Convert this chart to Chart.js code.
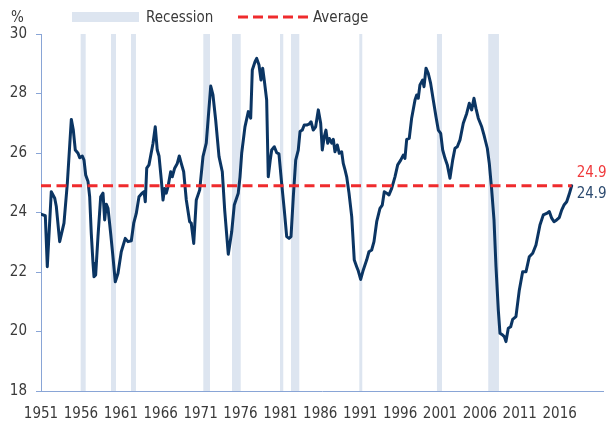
<!DOCTYPE html>
<html>
<head>
<meta charset="utf-8">
<script src="https://cdn.jsdelivr.net/npm/chart.js@4.4.1/dist/chart.umd.min.js"></script>
<style>
  body { margin: 0; background: #fff; }
  #wrap { position: relative; width: 616px; height: 421px; font-family: 'Liberation Sans Narrow', 'DejaVu Sans Condensed', sans-serif; font-size: 15px; color: #3a3a3a; }
  #wrap canvas { position: absolute; left: 0; top: 0; }
  .lg { position: absolute; top: 9px; height: 16px; line-height: 16px; white-space: nowrap; }
  .box { position: absolute; left: 72px; top: 12px; width: 67px; height: 10px; background: #dde5f0; }
  svg.dash { position: absolute; left: 238px; top: 15px; }
</style>
</head>
<body>
<div id="wrap">
  <canvas id="chart" width="616" height="421"></canvas>
  <div class="lg" style="left:11px">%</div>
  <div class="box"></div>
  <div class="lg" style="left:146px">Recession</div>
  <svg class="dash" width="72" height="4"><line x1="0" y1="2" x2="70" y2="2" stroke="#ef2b2d" stroke-width="3" stroke-dasharray="10 5"/></svg>
  <div class="lg" style="left:313px">Average</div>
</div>
<script>
// x values are read in the units of the printed year axis
const tickYears = [1951, 1956, 1961, 1966, 1971, 1976, 1981, 1986, 1991, 1996, 2001, 2006, 2011, 2016];
const yTicks = [18, 20, 22, 24, 26, 28, 30];
const average = 24.9;

const recessionStart = [1955.97, 1959.77, 1962.28, 1971.34, 1974.94, 1980.95, 1982.33, 1990.89, 2000.62, 2007.05];
const recessionEnd   = [1956.60, 1960.40, 1962.90, 1972.18, 1976.03, 1981.36, 1983.37, 1991.26, 2001.25, 2008.39];

const years = [
  1951.00, 1951.54, 1951.79, 1952.29, 1952.72, 1952.92, 1953.34, 1953.88, 1954.30, 1954.80,
  1955.05, 1955.30, 1955.64, 1955.85, 1956.18, 1956.39, 1956.60, 1956.89, 1957.10, 1957.30,
  1957.52, 1957.64, 1957.85, 1958.14, 1958.48, 1958.77, 1958.98, 1959.18, 1959.40, 1959.73,
  1960.02, 1960.31, 1960.65, 1961.06, 1961.56, 1961.90, 1962.32, 1962.62, 1962.94, 1963.28,
  1963.66, 1963.91, 1964.07, 1964.25, 1964.53, 1965.04, 1965.32, 1965.57, 1965.79, 1966.08,
  1966.29, 1966.50, 1966.70, 1966.92, 1967.25, 1967.45, 1967.75, 1968.08, 1968.33, 1968.58,
  1968.88, 1969.21, 1969.63, 1969.83, 1970.14, 1970.46, 1970.89, 1971.30, 1971.71, 1972.27,
  1972.55, 1972.89, 1973.31, 1973.72, 1974.02, 1974.47, 1974.90, 1975.22, 1975.72, 1975.94,
  1976.15, 1976.56, 1976.98, 1977.28, 1977.48, 1977.82, 1978.03, 1978.32, 1978.57, 1978.78,
  1978.98, 1979.28, 1979.48, 1979.73, 1979.91, 1980.24, 1980.54, 1980.82, 1981.16, 1981.49,
  1981.79, 1982.08, 1982.33, 1982.62, 1982.92, 1983.24, 1983.46, 1983.74, 1983.99, 1984.30,
  1984.58, 1984.84, 1985.12, 1985.42, 1985.75, 1986.05, 1986.25, 1986.50, 1986.71, 1986.93,
  1987.13, 1987.43, 1987.63, 1987.84, 1988.13, 1988.38, 1988.68, 1988.88, 1989.10, 1989.31,
  1989.60, 1989.94, 1990.26, 1990.56, 1990.76, 1991.06, 1991.39, 1991.81, 1992.10, 1992.44,
  1992.73, 1993.07, 1993.48, 1993.77, 1994.02, 1994.32, 1994.61, 1994.95, 1995.36, 1995.70,
  1996.08, 1996.40, 1996.61, 1996.83, 1997.15, 1997.45, 1997.87, 1998.08, 1998.28, 1998.49,
  1998.83, 1999.00, 1999.25, 1999.53, 1999.83, 2000.16, 2000.50, 2000.79, 2001.09, 2001.34,
  2001.63, 2001.92, 2002.25, 2002.59, 2002.88, 2003.17, 2003.51, 2003.92, 2004.35, 2004.67,
  2004.97, 2005.26, 2005.51, 2005.80, 2006.23, 2006.51, 2006.93, 2007.18, 2007.48, 2007.77,
  2008.02, 2008.31, 2008.52, 2008.86, 2009.06, 2009.27, 2009.56, 2009.86, 2010.11, 2010.52,
  2010.94, 2011.36, 2011.78, 2012.19, 2012.62, 2013.03, 2013.53, 2013.95, 2014.37, 2014.70,
  2015.00, 2015.29, 2015.62, 2015.95, 2016.25, 2016.54, 2016.88, 2017.20, 2017.50
];

const values = [
  23.94, 23.89, 22.18, 24.70, 24.48, 24.20, 23.02, 23.64, 24.98, 27.13,
  26.77, 26.10, 25.99, 25.84, 25.90, 25.76, 25.26, 25.04, 24.53, 23.30,
  22.29, 21.84, 21.90, 23.19, 24.53, 24.65, 23.75, 24.28, 24.14, 23.30,
  22.51, 21.67, 21.96, 22.68, 23.13, 23.02, 23.05, 23.64, 23.97, 24.53,
  24.65, 24.70, 24.36, 25.49, 25.60, 26.33, 26.88, 26.10, 25.90, 25.09,
  24.42, 24.81, 24.65, 24.87, 25.37, 25.20, 25.49, 25.65, 25.90, 25.65,
  25.37, 24.42, 23.69, 23.64, 22.96, 24.42, 24.76, 25.88, 26.33, 28.25,
  27.95, 27.11, 25.88, 25.37, 24.08, 22.60, 23.35, 24.25, 24.65, 25.20,
  25.99, 26.88, 27.39, 27.17, 28.79, 29.07, 29.18, 28.96, 28.45, 28.85,
  28.45, 27.78, 25.20, 25.76, 26.10, 26.21, 26.01, 25.97, 24.98, 24.08,
  23.19, 23.13, 23.19, 24.53, 25.76, 26.10, 26.72, 26.77, 26.94, 26.94,
  26.97, 27.05, 26.77, 26.88, 27.45, 27.00, 26.10, 26.55, 26.77, 26.33,
  26.49, 26.33, 26.46, 26.04, 26.27, 25.99, 26.04, 25.65, 25.43, 25.20,
  24.65, 23.86, 22.40, 22.18, 22.04, 21.75, 22.07, 22.40, 22.68, 22.74,
  23.02, 23.69, 24.14, 24.25, 24.70, 24.65, 24.59, 24.81, 25.20, 25.60,
  25.76, 25.93, 25.82, 26.46, 26.49, 27.17, 27.78, 27.95, 27.84, 28.29,
  28.45, 28.23, 28.85, 28.68, 28.34, 27.78, 27.22, 26.77, 26.66, 26.10,
  25.82, 25.60, 25.15, 25.76, 26.16, 26.21, 26.44, 27.00, 27.33, 27.67,
  27.45, 27.84, 27.50, 27.17, 26.88, 26.61, 26.16, 25.65, 24.76, 23.75,
  22.18, 20.72, 19.94, 19.88, 19.83, 19.66, 20.11, 20.16, 20.41, 20.50,
  21.39, 22.01, 22.01, 22.51, 22.63, 22.91, 23.58, 23.92, 23.97, 24.03,
  23.81, 23.69, 23.75, 23.83, 24.08, 24.25, 24.36, 24.62, 24.90
];

const NAVY = '#0b3563';
const RED = '#ef2b2d';
const AXIS = '#89a5d6';
const BAND = '#dde5f0';
const FONT = "'Liberation Sans Narrow', 'DejaVu Sans Condensed', sans-serif";

Chart.defaults.font.family = FONT;
Chart.defaults.font.size = 15;
Chart.defaults.color = '#3a3a3a';

const recessionBands = {
  id: 'recessionBands',
  beforeDraw(chart) {
    const { ctx, chartArea, scales: { x } } = chart;
    ctx.save();
    ctx.fillStyle = BAND;
    recessionStart.forEach((s, i) => {
      const x0 = x.getPixelForValue(s);
      const x1 = x.getPixelForValue(recessionEnd[i]);
      ctx.fillRect(x0, chartArea.top, x1 - x0, chartArea.bottom - chartArea.top);
    });
    ctx.restore();
  }
};

const endLabels = {
  id: 'endLabels',
  afterDatasetsDraw(chart) {
    const { ctx, scales: { x, y } } = chart;
    const last = values[values.length - 1];
    const px = x.getPixelForValue(years[years.length - 1]) + 5;
    ctx.save();
    ctx.font = '15px ' + FONT;
    ctx.textAlign = 'left';
    ctx.textBaseline = 'middle';
    ctx.fillStyle = '#f03a3c';
    ctx.fillText(average.toFixed(1), px, y.getPixelForValue(average) - 13);
    ctx.fillStyle = '#2d4b70';
    ctx.fillText(last.toFixed(1), px, y.getPixelForValue(last) + 8);
    ctx.restore();
  }
};

new Chart(document.getElementById('chart'), {
  type: 'line',
  data: {
    datasets: [
      {
        label: 'Average',
        data: [{ x: years[0], y: average }, { x: years[years.length - 1], y: average }],
        borderColor: RED,
        borderWidth: 3,
        borderDash: [10, 5.5],
        pointRadius: 0
      },
      {
        label: 'Series',
        data: years.map((yr, i) => ({ x: yr, y: values[i] })),
        borderColor: NAVY,
        borderWidth: 3,
        borderJoinStyle: 'round',
        borderCapStyle: 'round',
        pointRadius: 0,
        tension: 0
      }
    ]
  },
  options: {
    responsive: false,
    animation: false,
    devicePixelRatio: 1,
    layout: { padding: { top: 34, right: 13, left: 0, bottom: 0 } },
    scales: {
      x: {
        type: 'linear',
        min: 1951,
        max: 2021.43,
        grid: { display: false },
        border: { color: AXIS, width: 1 },
        afterBuildTicks: (axis) => { axis.ticks = tickYears.map((v) => ({ value: v })); },
        afterFit: (axis) => { axis.height = 30; },
        ticks: {
          autoSkip: false,
          maxRotation: 0,
          padding: 6,
          callback: (v) => String(v)
        }
      },
      y: {
        min: 18,
        max: 30,
        grid: { drawOnChartArea: false, drawTicks: true, tickLength: 5, color: AXIS },
        border: { color: AXIS, width: 1 },
        afterBuildTicks: (axis) => { axis.ticks = yTicks.map((v) => ({ value: v })); },
        afterFit: (axis) => { axis.width = 41; },
        ticks: { padding: 9 }
      }
    },
    plugins: {
      legend: { display: false },
      tooltip: { enabled: false }
    }
  },
  plugins: [recessionBands, endLabels]
});
</script>
</body>
</html>
